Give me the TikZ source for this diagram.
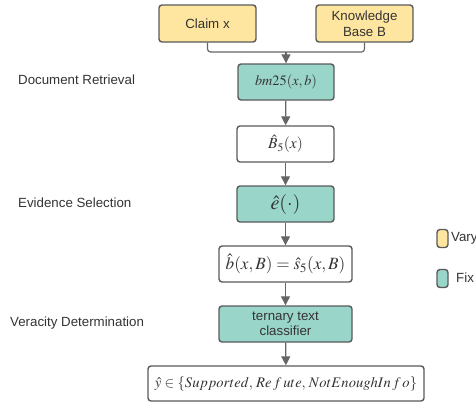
\documentclass[tikz,border=0pt]{standalone}
\usepackage{mathptmx}
\usepackage{fontspec}
\setmainfont{Liberation Sans}
\usetikzlibrary{arrows.meta}
\definecolor{varyc}{HTML}{FFE6A0}
\definecolor{fixc}{HTML}{9AD5CA}
\definecolor{edgec}{HTML}{5A5A5A}
\definecolor{linec}{HTML}{666666}
\definecolor{txtc}{HTML}{333333}
\tikzset{
  box/.style={draw=edgec, line width=1.4pt, rounded corners=3pt, inner sep=0pt, align=center, text=txtc,
    font=\fontsize{13.3}{15.5}\selectfont},
  varybox/.style={box, fill=varyc},
  fixbox/.style={box, fill=fixc},
  plainbox/.style={box, fill=white},
  conn/.style={draw=linec, line width=1.2pt},
  arr/.style={conn, -{Triangle[length=9pt,width=9pt]}},
  lbl/.style={text=txtc, inner sep=0pt, anchor=west, font=\fontsize{13.3}{15.5}\selectfont},
  legbox/.style={draw=edgec, line width=1.4pt, rounded corners=3pt, minimum width=11pt, minimum height=18pt, inner sep=0pt}
}
\begin{document}
\begin{tikzpicture}[x=1pt,y=-1pt]
\useasboundingbox (0,0) rectangle (476,402);
\node[varybox, minimum width=97pt, minimum height=37pt] (claim) at (207.5,23.5) {Claim x};
\node[varybox, minimum width=97pt, minimum height=37pt] (kb) at (364.5,23.5) {Knowledge\\Base B};
\node[fixbox, minimum width=96pt, minimum height=36pt] (bm) at (286,82) {\fontsize{14.3}{16}\selectfont$bm25(x,b)$};
\node[plainbox, minimum width=97pt, minimum height=36pt] (bset) at (285.5,144) {\fontsize{15.5}{17}\selectfont$\hat{B}_5(x)$};
\node[fixbox, minimum width=97pt, minimum height=36pt] (ehat) at (285.5,204) {\fontsize{20}{22}\selectfont$\hat{e}(\cdot)$};
\node[plainbox, minimum width=133pt, minimum height=36pt] (bhat) at (285.5,264) {\fontsize{17.2}{19}\selectfont$\hat{b}(x,B)=\hat{s}_5(x,B)$};
\node[fixbox, minimum width=133pt, minimum height=36pt] (tern) at (285.5,324) {ternary text\\classifier};
\node[plainbox, minimum width=276pt, minimum height=35pt] (yhat) at (286,383.5) {\fontsize{14.6}{17}\selectfont$\hat{y}\in\{Supported,\,Re\,f\,ute,\,NotEnoughIn\,f\,o\}$};

\coordinate (jl) at (207.5,52);
\coordinate (jr) at (364.5,52);
\coordinate (jm) at (286,52);
\draw[conn, rounded corners=3pt] (claim.south) -- (jl) -- (jr) -- (kb.south);
\draw[arr] (jm) -- (bm.north);
\draw[arr] (bm) -- (bset);
\draw[arr] (bset) -- (ehat);
\draw[arr] (ehat) -- (bhat);
\draw[arr] (bhat) -- (tern);
\draw[arr] (tern) -- (yhat);

\node[lbl] (l1) at (18,80) {Document Retrieval};
\node[lbl] (l2) at (18,203) {Evidence Selection};
\node[lbl] (l3) at (10,323) {Veracity Determination};

\node[legbox, fill=varyc] (lv) at (442.5,238.5) {};
\node[legbox, fill=fixc] (lf) at (442.5,278.5) {};
\node[lbl] (tv) at (451,238) {Vary};
\node[lbl] (tf) at (456,278) {Fix};
\end{tikzpicture}
\end{document}
